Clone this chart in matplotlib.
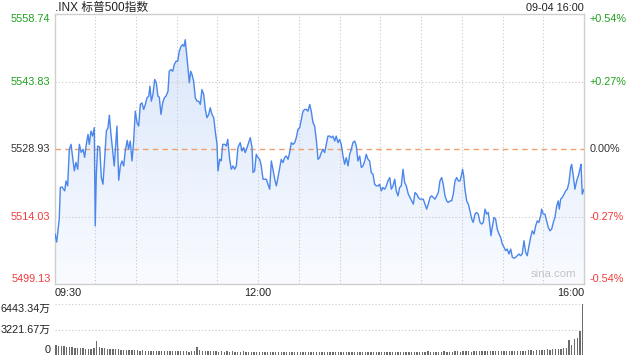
import numpy as np
import matplotlib
matplotlib.use("Agg")
import matplotlib.pyplot as plt
from matplotlib.colors import LinearSegmentedColormap
from matplotlib.patches import Polygon
from matplotlib.transforms import blended_transform_factory, offset_copy

plt.rcParams['font.family'] = ['Liberation Sans', 'Noto Sans CJK SC', 'DejaVu Sans']

# intraday prices, minutes after 09:30
minutes = [0.4, 1.6, 3.5, 4.3, 5.5, 7.5, 8.5, 9.7, 10.9, 12.2, 13.4, 14.6, 15.8, 17.1, 18.3, 19.7,
           21.0, 22.2, 23.4, 24.7, 25.6, 26.9, 28.1, 29.3, 30.0, 30.8, 31.8, 33.3, 34.5, 35.7, 37.0,
           38.2, 39.4, 40.4, 41.6, 42.9, 44.0, 45.1, 46.0, 47.3, 48.5, 49.7, 51.0, 52.1, 53.6, 54.6,
           55.8, 57.1, 58.3, 59.5, 60.8, 62.0, 63.2, 64.4, 65.7, 66.9, 68.1, 69.4, 70.3, 71.3, 72.5,
           73.8, 75.0, 76.2, 77.2, 78.4, 79.7, 80.9, 82.1, 83.6, 84.5, 85.8, 87.1, 88.2, 89.5, 90.7,
           91.9, 93.2, 94.4, 95.4, 96.3, 97.4, 98.3, 99.3, 100.3, 101.3, 102.5, 103.7, 105.0, 106.2,
           107.4, 108.6, 109.9, 111.1, 112.3, 113.6, 114.7, 116.0, 117.3, 118.4, 119.7, 120.4, 121.7,
           122.8, 123.9, 125.4, 126.5, 127.6, 129.0, 130.2, 131.5, 132.7, 133.9, 135.1, 136.8, 138.1,
           139.3, 140.5, 141.8, 143.0, 144.2, 145.5, 146.2, 147.4, 148.6, 149.9, 151.1, 152.3, 153.6,
           154.8, 156.0, 157.2, 158.5, 159.7, 160.9, 162.2, 163.4, 164.6, 165.9, 167.0, 168.3, 169.5,
           170.7, 172.0, 173.2, 174.4, 175.7, 176.9, 178.1, 179.3, 180.6, 181.8, 183.0, 184.3, 185.5,
           186.7, 188.0, 189.1, 190.4, 191.6, 192.8, 194.1, 195.3, 196.5, 197.8, 199.0, 200.2, 201.4,
           202.7, 203.9, 205.1, 206.4, 207.5, 208.8, 210.0, 211.2, 212.5, 213.7, 214.9, 216.2, 217.4,
           218.6, 219.8, 221.1, 222.3, 223.5, 224.8, 226.0, 227.2, 228.5, 229.6, 230.9, 232.1, 233.3,
           234.6, 235.8, 237.0, 238.3, 239.5, 240.7, 241.9, 243.2, 244.4, 245.6, 246.9, 248.1, 249.3,
           250.6, 251.7, 253.0, 254.2, 255.4, 256.7, 257.9, 259.1, 260.6, 261.8, 263.1, 264.3, 265.5,
           266.8, 268.0, 269.2, 270.4, 271.6, 272.9, 274.1, 275.3, 276.6, 277.8, 279.0, 280.2, 281.5,
           282.7, 283.9, 285.2, 286.3, 287.6, 288.9, 290.0, 291.3, 292.5, 293.7, 295.0, 296.2, 297.4,
           298.7, 299.9, 300.6, 301.4, 302.3, 303.6, 304.8, 306.0, 307.3, 308.4, 309.7, 310.9, 312.1,
           313.4, 314.6, 315.8, 317.1, 318.3, 319.5, 320.7, 321.5, 322.4, 323.7, 324.9, 326.1, 327.4,
           328.6, 329.8, 331.1, 332.3, 333.5, 334.7, 336.0, 337.2, 338.4, 339.7, 340.8, 342.1, 343.3,
           344.5, 345.8, 347.0, 348.2, 349.5, 350.7, 351.9, 353.2, 354.4, 355.6, 356.8, 358.1, 358.8,
           360.0, 361.2, 362.5, 363.7, 364.9, 366.2, 367.4, 368.6, 369.9, 371.0, 371.8, 372.8, 374.0,
           375.3, 376.5, 377.7, 378.9, 380.2, 380.9, 382.1, 383.3, 384.6, 385.8, 387.0, 387.8, 388.7,
           390.0]
prices = [5510.16, 5508.39, 5513.46, 5520.43, 5520.57, 5519.69, 5521.89, 5520.79, 5528.86, 5529.96,
          5527.10, 5524.09, 5526.00, 5524.46, 5529.96, 5528.20, 5528.86, 5527.10, 5529.96, 5532.17,
          5529.96, 5532.89, 5531.79, 5533.64, 5511.98, 5523.36, 5529.59, 5529.37, 5522.64, 5521.16,
          5527.04, 5532.89, 5533.64, 5536.41, 5532.17, 5528.49, 5525.19, 5529.96, 5533.99, 5522.04,
          5525.19, 5526.29, 5525.19, 5528.49, 5530.84, 5528.86, 5530.69, 5526.29, 5530.69, 5537.29,
          5534.74, 5533.99, 5538.77, 5539.14, 5537.67, 5538.77, 5540.24, 5540.60, 5542.80, 5539.49,
          5540.97, 5544.27, 5543.54, 5540.60, 5540.38, 5536.57, 5539.14, 5540.24, 5540.60, 5541.70,
          5546.10, 5546.47, 5546.10, 5547.57, 5548.30, 5548.30, 5550.50, 5551.60, 5551.97, 5551.60,
          5553.07, 5549.77, 5546.85, 5543.54, 5546.10, 5545.37, 5543.90, 5540.24, 5539.49, 5539.49,
          5538.77, 5542.07, 5540.97, 5537.67, 5535.84, 5536.57, 5538.04, 5536.57, 5535.84, 5532.89,
          5529.96, 5524.09, 5526.66, 5526.29, 5529.96, 5529.96, 5529.59, 5531.06, 5526.66, 5524.46,
          5525.19, 5524.46, 5525.19, 5529.24, 5530.34, 5528.49, 5529.24, 5528.14, 5529.24, 5530.34,
          5531.44, 5529.24, 5523.74, 5524.09, 5527.76, 5527.04, 5526.66, 5525.19, 5522.26, 5522.26,
          5522.26, 5521.16, 5520.06, 5526.29, 5524.46, 5522.26, 5520.79, 5522.64, 5524.84, 5526.66,
          5525.94, 5527.04, 5527.39, 5526.66, 5528.14, 5530.34, 5529.96, 5530.34, 5531.44, 5533.27,
          5533.64, 5535.47, 5537.29, 5537.67, 5537.67, 5537.29, 5538.77, 5537.29, 5534.74, 5533.99,
          5531.06, 5526.66, 5527.04, 5528.14, 5528.86, 5528.14, 5529.96, 5531.79, 5531.79, 5531.44,
          5531.79, 5530.69, 5531.79, 5530.34, 5531.06, 5529.96, 5527.39, 5525.56, 5527.04, 5525.19,
          5527.76, 5528.86, 5530.34, 5530.69, 5529.59, 5526.29, 5527.39, 5524.84, 5525.19, 5526.29,
          5527.76, 5526.66, 5526.29, 5523.74, 5523.36, 5521.16, 5520.79, 5520.79, 5521.16, 5519.69,
          5520.43, 5520.06, 5520.79, 5521.89, 5522.64, 5520.06, 5520.79, 5522.26, 5519.69, 5518.59,
          5520.43, 5520.79, 5524.46, 5521.53, 5520.79, 5518.96, 5518.23, 5517.48, 5516.76, 5519.33,
          5518.96, 5518.23, 5517.86, 5517.86, 5517.86, 5516.76, 5515.66, 5516.76, 5518.23, 5518.59,
          5518.23, 5517.86, 5518.59, 5519.33, 5521.89, 5522.64, 5521.16, 5518.59, 5517.48, 5517.13,
          5517.48, 5517.48, 5518.96, 5521.89, 5522.64, 5521.89, 5521.89, 5523.36, 5524.46, 5522.99,
          5520.06, 5517.48, 5516.76, 5515.28, 5513.46, 5512.73, 5514.56, 5514.93, 5514.56, 5512.73,
          5512.36, 5512.73, 5515.66, 5514.56, 5514.93, 5511.98, 5509.78, 5511.63, 5513.83, 5513.46,
          5511.26, 5510.16, 5509.43, 5507.95, 5507.23, 5506.48, 5506.85, 5505.75, 5506.85, 5505.03,
          5504.81, 5505.03, 5505.38, 5505.75, 5505.38, 5505.75, 5508.68, 5506.13, 5505.38, 5507.58,
          5509.43, 5510.88, 5510.16, 5511.98, 5513.08, 5512.73, 5514.18, 5515.66, 5514.56, 5514.56,
          5513.08, 5511.63, 5510.88, 5511.26, 5512.73, 5513.83, 5516.38, 5517.48, 5515.66, 5517.86,
          5518.23, 5518.96, 5519.69, 5520.06, 5521.53, 5524.84, 5525.56, 5522.99, 5520.06, 5521.89,
          5522.99, 5524.46, 5525.56, 5518.96, 5520.06]

# volume per 2-minute bar, in 万
volume = [1270, 1180, 1130, 1090, 1020, 960, 980, 910, 890, 860, 880, 820, 800, 790, 830,
          1800, 1010, 900, 860, 820, 790, 760, 730, 700, 690, 660, 640, 630, 610, 600,
          590, 570, 610, 540, 520, 560, 510, 490, 530, 500, 480, 510, 470, 460, 500,
          480, 450, 470, 460, 440, 480, 450, 990, 620, 560, 540, 500, 470, 450, 480,
          440, 460, 430, 450, 420, 470, 440, 430, 410, 450, 430, 400, 440, 420, 410,
          430, 400, 420, 410, 390, 430, 400, 410, 380, 420, 400, 390, 410, 380, 400,
          390, 410, 380, 400, 370, 390, 420, 380, 400, 390, 370, 410, 390, 380, 400,
          380, 390, 410, 370, 400, 390, 380, 420, 390, 400, 380, 410, 430, 400, 390,
          420, 400, 410, 390, 430, 410, 400, 420, 390, 410, 440, 400, 420, 410, 430,
          400, 420, 450, 410, 430, 420, 400, 440, 460, 420, 440, 430, 450, 470, 440,
          460, 450, 480, 440, 470, 460, 490, 450, 480, 470, 500, 480, 470, 510, 490,
          520, 500, 480, 530, 510, 550, 520, 560, 540, 580, 600, 570, 620, 650, 610,
          680, 700, 660, 720, 750, 780, 800, 850, 900, 1900, 1300, 2050, 2100, 3050, 6443.34]
vol_times = [2 * i + 1 for i in range(len(volume))]

prev_close = 5528.93
price_ticks = [5558.74, 5543.83, 5528.93, 5514.03, 5499.13]
pct_labels = ['+0.54%', '+0.27%', '0.00%', '-0.27%', '-0.54%']
vol_ticks = [6443.34, 3221.67, 0]
vol_labels = ['6443.34万', '3221.67万', '0']
time_labels = ['09:30', '12:00', '16:00']
time_pos = [0, 150, 390]

green = '#1ea01e'
red = '#f23a3a'
grid_c = '#c8c8c8'

fig = plt.figure(figsize=(6.4, 3.6), dpi=100)
W, H = 640, 360
ax = fig.add_axes([54.5 / W, 1 - 284 / H, 529.5 / W, 270 / H])
axv = fig.add_axes([54.5 / W, 1 - 355 / H, 529.5 / W, 50.7 / H])

ymin, ymax = price_ticks[-1], price_ticks[0]
ax.set_xlim(0, 390)
ax.set_ylim(ymin, ymax)

# gradient fill under the line
cmap = LinearSegmentedColormap.from_list('fill', ['#f9fbff', '#d8e5fa'])
grad = np.linspace(0, 1, 256).reshape(-1, 1)
im = ax.imshow(grad, cmap=cmap, aspect='auto', origin='lower',
               extent=[0, 390, ymin, ymax], zorder=1)
verts = list(zip(minutes, prices)) + [(minutes[-1], ymin), (minutes[0], ymin)]
poly = Polygon(verts, closed=True, facecolor='none', edgecolor='none')
ax.add_patch(poly)
im.set_clip_path(poly)

for t in range(30, 390, 30):
    ax.axvline(t, color=grid_c, lw=0.8, ls=(0, (1, 2)), zorder=2)
for v in price_ticks[1:-1]:
    if v != prev_close:
        ax.axhline(v, color=grid_c, lw=0.8, ls=(0, (1, 2)), zorder=2)
ax.axhline(prev_close, color='#f0a06a', lw=1.0, ls=(0, (4, 3)), zorder=3)

ax.plot(minutes, prices, color='#4a86ec', lw=1.0, zorder=4)

ax.set_xticks([])
ax.set_yticks([])
for s in ax.spines.values():
    s.set_color('#cfcfcf')
    s.set_linewidth(1.0)

tl = blended_transform_factory(ax.transAxes, ax.transData)
left_tr = offset_copy(tl, fig=fig, x=-4, y=0, units='dots')
right_tr = offset_copy(tl, fig=fig, x=6, y=0, units='dots')
label_colors = [green, green, '#333333', red, red]
vas = ['top', 'center', 'center', 'center', 'bottom']
for v, pl, c, va in zip(price_ticks, pct_labels, label_colors, vas):
    ax.text(0, v, f'{v:.2f}', transform=left_tr, ha='right', va=va, color=c, fontsize=7.8)
    ax.text(1, v, pl, transform=right_tr, ha='left', va=va, color=c, fontsize=7.8)

bt = blended_transform_factory(ax.transData, ax.transAxes)
bt = offset_copy(bt, fig=fig, x=0, y=-3, units='points')
for pos, lab in zip(time_pos, time_labels):
    ha = 'left' if pos == 0 else ('right' if pos == 390 else 'center')
    ax.text(pos, 0, lab, transform=bt, ha=ha, va='top', color='#222222', fontsize=7.8)

ax.text(0.985, 0.02, 'sina.com', transform=ax.transAxes, ha='right', va='bottom',
        color='#c4c4c4', fontsize=8.2)

fig.text(55 / W, 1 - 7.5 / H, '.INX 标普500指数', ha='left', va='center',
         color='#222222', fontsize=8.5)
fig.text(584 / W, 1 - 8 / H, '09-04 16:00', ha='right', va='center',
         color='#222222', fontsize=7.8)

# volume panel
axv.bar(vol_times, volume, width=1.0, color='#6b6b6b', zorder=3)
axv.set_xlim(0, 390)
axv.set_ylim(0, vol_ticks[0])
for v in vol_ticks[:2]:
    axv.axhline(v, color=grid_c, lw=0.8, ls=(0, (1, 2)), zorder=1)
axv.set_xticks([])
axv.set_yticks([])
for s in axv.spines.values():
    s.set_visible(False)
vtl = blended_transform_factory(axv.transAxes, axv.transData)
vtl = offset_copy(vtl, fig=fig, x=-4, y=0, units='dots')
for v, lab, va in zip(vol_ticks, vol_labels, ['top', 'center', 'bottom']):
    axv.text(0, v, lab, transform=vtl, ha='right', va=va, color='#222222', fontsize=7.8)

fig.savefig('out.png', dpi=100)
